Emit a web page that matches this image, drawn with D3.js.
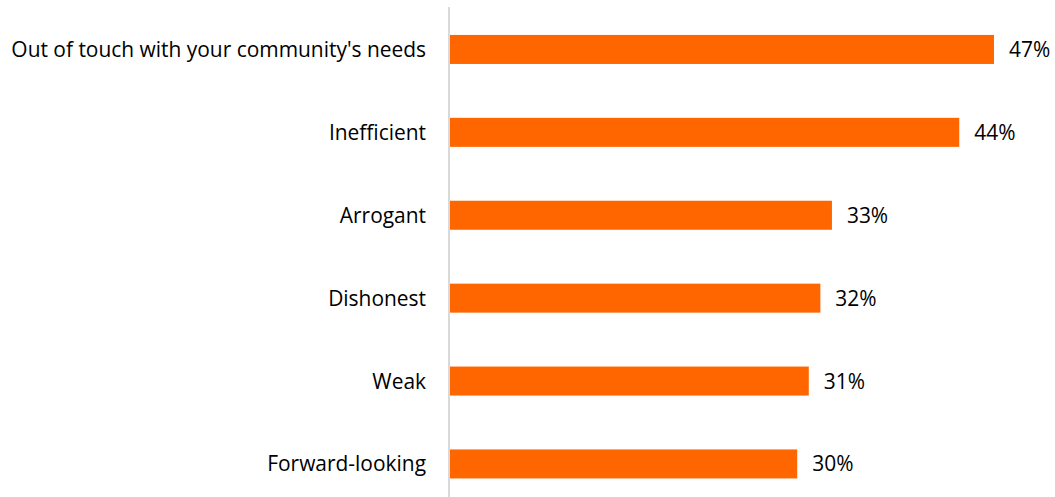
<!DOCTYPE html>
<html><head><meta charset="utf-8">
<script src="https://cdn.jsdelivr.net/npm/d3@7"></script>
<style>body{margin:0;background:#fff}svg{display:block}</style>
</head><body>
<svg id="c" width="1055" height="497"></svg>
<script>
const categories = ["Out of touch with your community's needs","Inefficient","Arrogant","Dishonest","Weak","Forward-looking"];
const values = [47,44,33,32,31,30];
const valueLabels = ["47%","44%","33%","32%","31%","30%"];

const svg = d3.select("#c");
const font = "'Open Sans', sans-serif";
const x = d3.scaleLinear().domain([0,50]).range([450,1028.7]);
const y = d3.scaleBand().domain(categories).range([8,505.4]).paddingInner(0.65).paddingOuter(0.325);

svg.append("line").attr("x1",449).attr("x2",449).attr("y1",7).attr("y2",497)
  .attr("stroke","#d9d9d9").attr("stroke-width",2);

svg.selectAll("rect.bar").data(categories).join("rect").attr("class","bar")
  .attr("x",x(0)).attr("y",d=>y(d)).attr("width",(d,i)=>x(values[i])-x(0))
  .attr("height",y.bandwidth()).attr("fill","#ff6600");

const cats = svg.selectAll("text.cat").data(categories).join("text").attr("class","cat")
  .attr("x",426).attr("y",d=>y(d)+y.bandwidth()/2).attr("dy","0.36em")
  .attr("text-anchor","end").attr("font-family",font).attr("font-size",19)
  .attr("fill","#000").text(d=>d);
// fit the longest label to the reference's width
const w = cats.node().getComputedTextLength();
const fs = 19*415/w;
cats.attr("font-size",fs);

svg.selectAll("text.val").data(categories).join("text").attr("class","val")
  .attr("x",(d,i)=>x(values[i])+15).attr("y",d=>y(d)+y.bandwidth()/2).attr("dy","0.36em")
  .attr("font-family",font).attr("font-size",fs).attr("fill","#000").text((d,i)=>valueLabels[i]);
</script>
</body></html>
